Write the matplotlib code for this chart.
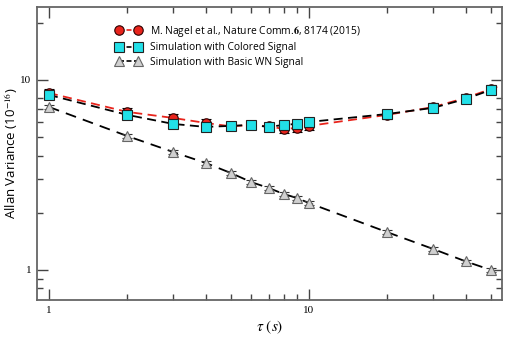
import numpy as np
import matplotlib
matplotlib.use("Agg")
import matplotlib.pyplot as plt
from matplotlib.ticker import FixedLocator, NullFormatter

plt.rcParams['mathtext.fontset'] = 'stix'

tau = [1, 2, 3, 4, 5, 6, 7, 8, 9, 10, 20, 30, 40, 50]
nagel = [8.54, 6.79, 6.31, 5.94, 5.70, 5.80, 5.70, 5.52, 5.59, 5.73, 6.55, 7.20, 8.04, 8.96]
colored = [8.34, 6.55, 5.87, 5.66, 5.73, 5.80, 5.66, 5.80, 5.87, 6.01, 6.62, 7.13, 7.94, 8.86]
basic_wn = [7.21, 5.07, 4.18, 3.66, 3.24, 2.90, 2.70, 2.51, 2.39, 2.25, 1.58, 1.29, 1.11, 1.00]
rel_err = 0.045

x_major = [1, 10]
x_minor = [2, 3, 4, 5, 6, 7, 8, 9, 20, 30, 40, 50]
y_major = [1, 10]
y_minor = [0.8, 0.9, 2, 3, 4, 5, 6, 7, 8, 20]

fig = plt.figure(figsize=(5.18, 3.38), dpi=100)
ax = fig.add_axes([37/518, 1 - 300/338, (502-37)/518, (300-7)/338])
ax.set_xscale('log')
ax.set_yscale('log')
ax.set_xlim(0.9, 55.2)
ax.set_ylim(0.695, 24.2)

t = np.array(tau, float)
n = np.array(nagel)
c = np.array(colored)
b = np.array(basic_wn)

RED = '#e8241c'
CYAN = '#22e0e8'
GREY = '#d0d0d0'
MS = 6.8

# red dashed line: through points, extended to the axis edge along last segment
slope = np.log(n[-1] / n[-2]) / np.log(t[-1] / t[-2])
t_ext = np.append(t, 60.0)
n_ext = np.append(n, n[-1] * (60.0 / t[-1]) ** slope)
ax.plot(t_ext, n_ext, color=RED, lw=1.3, dashes=(5, 3), zorder=2)
ax.errorbar(t, n, yerr=n * rel_err, fmt='o', color='k', ecolor='k', elinewidth=0.8,
            capsize=3.4, capthick=1.0, ms=MS, mfc=RED, mec='#2a0000', mew=0.8, zorder=3)
h1, = ax.plot([], [], marker='o', linestyle='--', dashes=(3, 1.5), color=RED, ms=MS,
              mfc=RED, mec='#2a0000', mew=0.8, lw=1.2,
              label=r'M. Nagel et al., Nature Comm.$\mathbf{6}$, 8174 (2015)')

ax.plot(t, c, color='k', lw=1.3, dashes=(5, 3), zorder=4)
ax.errorbar(t, c, yerr=c * rel_err, fmt='s', color='k', ecolor='k', elinewidth=0.8,
            capsize=3.4, capthick=1.0, ms=MS, mfc=CYAN, mec='#222222', mew=0.8, zorder=5)
h2, = ax.plot([], [], marker='s', linestyle='--', dashes=(3, 1.5), color='k', ms=MS,
              mfc=CYAN, mec='#222222', mew=0.8, lw=1.2, label='Simulation with Colored Signal')

ax.plot(t, b, color='k', lw=1.3, dashes=(6, 4), zorder=4)
ax.errorbar(t, b, yerr=b * rel_err * 0.5, fmt='^', color='k', ecolor='#333333', elinewidth=0.8,
            capsize=3.4, capthick=1.0, ms=MS + 0.5, mfc=GREY, mec='#666666', mew=0.8, zorder=5)
h3, = ax.plot([], [], marker='^', linestyle='--', dashes=(3, 1.5), color='k', ms=MS + 0.5,
              mfc=GREY, mec='#666666', mew=0.8, lw=1.2, label='Simulation with Basic WN Signal')

leg = ax.legend(handles=[h1, h2, h3], loc='upper left', bbox_to_anchor=(0.15, 0.975),
                frameon=False, numpoints=2, handlelength=2.4, handletextpad=0.9,
                labelspacing=0.35, prop={'family': 'Open Sans', 'size': 7.4})

ax.xaxis.set_major_locator(FixedLocator(x_major))
ax.xaxis.set_minor_locator(FixedLocator(x_minor))
ax.yaxis.set_major_locator(FixedLocator(y_major))
ax.yaxis.set_minor_locator(FixedLocator(y_minor))
ax.xaxis.set_minor_formatter(NullFormatter())
ax.yaxis.set_minor_formatter(NullFormatter())
ax.set_xticklabels(['1', '10'])
ax.set_yticklabels(['1', '10'])
for lab in ax.get_xticklabels() + ax.get_yticklabels():
    lab.set_family('Liberation Serif')
    lab.set_fontsize(8)

ax.tick_params(which='both', direction='in', top=True, right=True, color='#444444', width=1.0)
ax.tick_params(which='major', length=8, pad=4)
ax.tick_params(which='minor', length=4)
for s in ax.spines.values():
    s.set_color('#666666')
    s.set_linewidth(1.3)

ax.set_xlabel(r'$\tau\ (s)$', fontsize=11, labelpad=3)
ax.set_ylabel(r'Allan Variance (10$^{-16}$)', fontsize=9.5, family='Open Sans')
ax.yaxis.set_label_coords(-17/465, 0.5)

fig.savefig('out.png', dpi=100)
